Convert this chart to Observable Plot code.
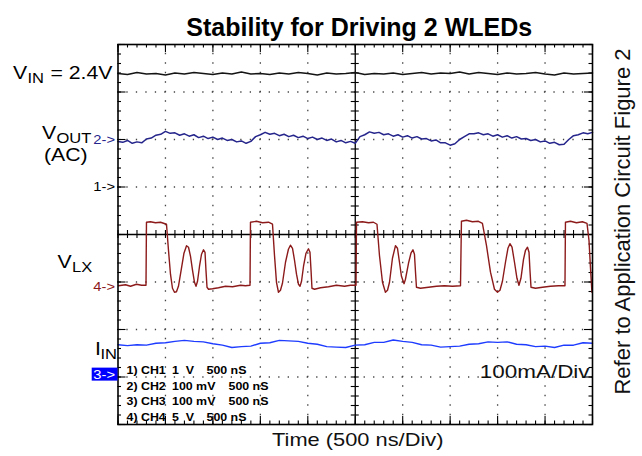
<!DOCTYPE html>
<html>
<head>
<meta charset="utf-8">
<script src="https://cdn.jsdelivr.net/npm/d3@7"></script>
<script src="https://cdn.jsdelivr.net/npm/@observablehq/plot@0.6"></script>
<style>
  html, body { margin: 0; padding: 0; background: #fff; }
  #chart svg { display: block; }
</style>
</head>
<body>
<div id="chart"></div>
<script>
// ---- Scope capture: 10 horizontal divisions of 500 ns, 8 vertical divisions ----
const TIME_PER_DIV = 500;        // ns
const SWEEP = 5000;              // ns across the screen
const SAMPLE_NS = 100;           // record interval for CH1 / CH3
const VOUT_SAMPLE_NS = 50;       // record interval for CH2

// channel settings: units per division and ground marker (divisions from centre)
const channelIds = [1, 2, 3, 4];
const channelNames = ["CH1", "CH2", "CH3", "CH4"];
const channelPerDiv = [1, 100, 100, 5];
const channelUnits = ["V", "mV", "mV", "V"];
const channelOffsets = [1.0, 2.0, -2.95, -1.1];

// CH1: input voltage VIN (V), one sample per 100 ns
const vinVolts = [
  2.39, 2.37, 2.41, 2.38, 2.39, 2.36, 2.40, 2.38, 2.41, 2.39,
  2.37, 2.40, 2.38, 2.42, 2.38, 2.39, 2.37, 2.40, 2.38, 2.41,
  2.39, 2.36, 2.40, 2.38, 2.39, 2.41, 2.37, 2.39, 2.38, 2.40,
  2.37, 2.39, 2.41, 2.38, 2.40, 2.39, 2.42, 2.38, 2.41, 2.39,
  2.37, 2.40, 2.38, 2.39, 2.41, 2.38, 2.36, 2.40, 2.38, 2.39,
  2.40
];

// CH2: output ripple VOUT, AC coupled (mV), one sample per 50 ns
const voutMilliVolts = [
  -4, -6, -2, -8, -5, -7, 1, 3, 9, 11,
  17, 13, 14, 9, 12, 7, 10, 4, 7, 2,
  5, 0, 3, -2, 0, -5, -3, -8, -4, 6,
  10, 15, 11, 13, 8, 11, 6, 9, 4, 7,
  2, 5, 0, 3, -2, 1, -5, -2, -7, -4,
  -8, 6, 10, 16, 13, 15, 10, 12, 7, 10,
  5, 8, 3, 6, 1, 2, -3, -1, -7, -7,
  -12, -9, 0, 6, 12, 12, 14, 10, 12, 7,
  10, 5, 8, 3, 6, 1, 2, -2, 0, -5,
  -3, -8, -6, -11, -10, 0, 8, 10, 14, 12,
  15
];

// CH3: input current IIN (mA), one sample per 100 ns
const iinMilliAmps = [
  63, 61, 63, 62, 66, 67, 70, 72, 70, 69,
  65, 62, 57, 59, 60, 66, 67, 72, 71, 70,
  66, 64, 59, 58, 57, 62, 63, 68, 68, 73,
  70, 68, 63, 62, 58, 59, 60, 64, 65, 69,
  68, 69, 64, 63, 59, 60, 57, 62, 62, 67,
  66
];

// CH4: switch node VLX, sample times (ns) and voltages (V)
const vlxTime = [
  5, 79, 132, 195, 248, 295,
  300, 342, 395, 448, 511,
  532, 553, 574, 595, 616, 637, 669, 695, 722, 743, 764, 785, 806, 822, 838, 859, 880, 901, 917, 927, 938, 954, 996, 1059, 1133, 1207, 1291, 1343, 1391,
  1396, 1459, 1523, 1586, 1628,
  1649, 1670, 1691, 1712, 1733, 1765, 1796, 1817, 1839, 1860, 1881, 1902, 1918, 1934, 1955, 1981, 2007, 2023, 2034, 2044, 2071, 2134, 2218, 2302, 2387, 2450, 2508,
  2513, 2576, 2640, 2692, 2729,
  2755, 2787, 2818, 2840, 2861, 2892, 2924, 2945, 2966, 2987, 3014, 3029, 3061, 3087, 3108, 3124, 3135, 3145, 3187, 3272, 3356, 3440, 3524, 3609,
  3619, 3672, 3735, 3798, 3840,
  3883, 3925, 3967, 3999, 4025, 4051, 4083, 4109, 4130, 4152, 4178, 4204, 4225, 4246, 4273, 4294, 4315, 4331, 4341, 4352, 4399, 4473, 4557, 4641, 4710,
  4715, 4768, 4831, 4894, 4942,
  4963, 4979, 4994
];
const vlxVolts = [
  0.11, 0.21, 0.05, 0.26, 0.16, 0.16,
  6.79, 6.84, 6.74, 6.79, 6.58,
  3.84, 1.32, -0.16, -0.58, -0.53, 0.05, 1.95, 3.53, 4.32, 4.16, 3.21, 1.74, 0.47, 0.05, 0.58, 2.16, 3.42, 3.89, 3.63, 1.74, -0.05, -0.26, -0.21, -0.11, 0.05, 0.0, 0.16, 0.11, 0.16,
  6.79, 6.89, 6.74, 6.79, 6.58,
  3.32, 0.47, -0.58, -0.37, 0.37, 2.58, 3.95, 4.37, 4.05, 2.79, 1.32, 0.26, 0.05, 0.58, 2.16, 3.53, 4.0, 3.63, 1.74, -0.16, -0.26, -0.11, 0.0, 0.16, 0.05, 0.16, 0.16,
  6.79, 6.84, 6.74, 6.79, 6.58,
  3.32, 0.47, -0.58, -0.37, 0.47, 3.0, 4.32, 4.05, 2.58, 1.1, 0.32, 0.79, 2.47, 3.53, 3.89, 3.42, 1.53, -0.05, -0.16, -0.05, 0.05, 0.11, 0.05, 0.11,
  6.89, 7.0, 6.84, 6.89, 6.68,
  4.32, 1.53, -0.26, -0.58, -0.37, 0.58, 2.58, 4.05, 4.53, 4.16, 2.58, 0.89, 0.16, 0.89, 2.89, 3.84, 4.16, 3.63, 1.74, -0.05, -0.16, -0.05, 0.05, 0.11, 0.11,
  6.79, 6.89, 6.74, 6.84, 6.68,
  4.89, 1.95, -0.58
];

// on-screen readout
const legendChannels = ["1) CH1", "2) CH2", "3) CH3", "4) CH4"];
const legendScales = ["1\u00a0\u00a0V", "100 mV", "100 mV", "5\u00a0\u00a0V"];
const legendTime = ["500 nS", "500 nS", "500 nS", "500 nS"];

const TITLE = "Stability for Driving 2 WLEDs";
const X_LABEL = "Time (500 ns/Div)";
const SIDE_NOTE = "Refer to Application Circuit Figure 2";
const IIN_SCALE = "100mA/Div";

// ---- styling ----
const traceColors = {1: "#141414", 2: "#25258c", 3: "#1e3cff", 4: "#8c1a1a"};
const markerColors = {1: "#000000", 2: "#25258c", 3: "#ffffff", 4: "#8c1a1a"};
const MARKER_BOX = "#0000ff";
const FONT = "'Liberation Sans', Arial, Helvetica, sans-serif";
const STRETCH = 1.18;            // side lettering is drawn slightly wide
const ML = 117.5, MT = 44, MR = 50, MB = 32;
const PX_NS = 500 / 47.45;       // ns per pixel
const PX_DIV = 1 / 47.5;         // divisions per pixel

// ---- build per-channel series in screen divisions ----
const channels = channelIds.map((id, i) => ({
  id, name: channelNames[i], perDiv: channelPerDiv[i], unit: channelUnits[i], offset: channelOffsets[i]
}));
const ch = Object.fromEntries(channels.map(c => [c.id, c]));
const toDiv = (c, v) => v / c.perDiv + c.offset;

const vinSeries = vinVolts.map((v, i) => ({t: i * SAMPLE_NS, y: toDiv(ch[1], v)}));
const voutSeries = voutMilliVolts.map((v, i) => ({t: i * VOUT_SAMPLE_NS, y: toDiv(ch[2], v)}));
const iinSeries = iinMilliAmps.map((v, i) => ({t: i * SAMPLE_NS, y: toDiv(ch[3], v)}));
const vlxSeries = vlxTime.map((t, i) => ({t, y: toDiv(ch[4], vlxVolts[i])}));

// ---- graticule ----
const minorX = d3.range(0, SWEEP / 100 + 1).map(k => k * 100);
const majorX = d3.range(0, 11).map(k => k * TIME_PER_DIV);
const minorY = d3.range(-20, 21).map(k => k / 5);
const majorY = d3.range(-4, 5);
const innerX = majorX.filter(x => x > 0 && x < SWEEP && x !== SWEEP / 2);
const innerY = majorY.filter(y => y > -4 && y < 4 && y !== 0);
const tMinor = 3.5, tMajor = 8, tAxis = 4;   // tick lengths, px

// text placed against the frame corner (baseline positions)
const at = (x, base) => ({frameAnchor: "top-left", dx: x - ML, dy: base - MT, lineAnchor: "bottom"});

const leftLabels = [
  {text: "V", x: 12.5, base: 78, size: 18, anchor: "start"},
  {text: "IN", x: 27, base: 82, size: 14, anchor: "start"},
  {text: "= 2.4V", x: 112, base: 78, size: 18, anchor: "end"},
  {text: "V", x: 41.5, base: 138, size: 18, anchor: "start"},
  {text: "OUT", x: 56, base: 142, size: 14, anchor: "start"},
  {text: "(AC)", x: 43.5, base: 160, size: 18, anchor: "start"},
  {text: "V", x: 57, base: 267, size: 18, anchor: "start"},
  {text: "LX", x: 71.5, base: 271, size: 14, anchor: "start"},
  {text: "I", x: 94.5, base: 354, size: 18, anchor: "start"},
  {text: "IN", x: 100, base: 358, size: 14, anchor: "start"}
];
const legendRowBase = [373.5, 389.2, 404.9, 420.6];
const legendColX = [126, 171.5];
const legendTimeX = [206, 228, 228, 206];

const labelMarks = leftLabels.map(d =>
  Plot.text([d.text], {...at(d.x, d.base), textAnchor: d.anchor, fontSize: d.size, fill: "#000"}));

const legendMarks = legendChannels.flatMap((c, i) => [
  Plot.text([c], {...at(legendColX[0], legendRowBase[i]), textAnchor: "start", fontSize: 10.5, fontWeight: "bold", fill: "#000"}),
  Plot.text([legendScales[i]], {...at(legendColX[1], legendRowBase[i]), textAnchor: "start", fontSize: 10.5, fontWeight: "bold", fill: "#000"}),
  Plot.text([legendTime[i]], {...at(legendTimeX[i], legendRowBase[i]), textAnchor: "start", fontSize: 10.5, fontWeight: "bold", fill: "#000"})
]);

const svg = Plot.plot({
  width: 642,
  height: 456,
  marginLeft: ML, marginRight: MR, marginTop: MT, marginBottom: MB,
  x: {domain: [0, SWEEP], axis: null},
  y: {domain: [-4, 4], axis: null},
  color: {type: "identity"},
  style: {fontFamily: FONT, background: "#fff", overflow: "visible"},
  marks: [
    // dotted division lines
    Plot.ruleX(innerX, {stroke: "#444", strokeWidth: 1.3, strokeDasharray: "1.3,8.2", strokeDashoffset: 0.65}),
    Plot.ruleY(innerY, {stroke: "#444", strokeWidth: 1.3, strokeDasharray: "1.3,8.19", strokeDashoffset: 0.65}),
    // centre axes with fine ticks
    Plot.ruleX([SWEEP / 2], {stroke: "#000", strokeWidth: 1.3}),
    Plot.ruleY([0], {stroke: "#000", strokeWidth: 1.4}),
    Plot.ruleX(minorX, {x: d => d, y1: -tAxis * PX_DIV, y2: tAxis * PX_DIV, stroke: "#000", strokeWidth: 1.1}),
    Plot.ruleY(minorY, {y: d => d, x1: SWEEP / 2 - tAxis * PX_NS, x2: SWEEP / 2 + tAxis * PX_NS, stroke: "#000", strokeWidth: 1.1}),
    // frame rulers
    Plot.ruleX(minorX, {x: d => d, y1: 4, y2: 4 - tMinor * PX_DIV, stroke: "#000", strokeWidth: 1.1}),
    Plot.ruleX(majorX, {x: d => d, y1: 4, y2: 4 - tMajor * PX_DIV, stroke: "#000", strokeWidth: 1.1}),
    Plot.ruleX(minorX, {x: d => d, y1: -4, y2: -4 + tMinor * PX_DIV, stroke: "#000", strokeWidth: 1.1}),
    Plot.ruleX(majorX, {x: d => d, y1: -4, y2: -4 + tMajor * PX_DIV, stroke: "#000", strokeWidth: 1.1}),
    Plot.ruleY(minorY, {y: d => d, x1: 0, x2: tMinor * PX_NS, stroke: "#000", strokeWidth: 1.1}),
    Plot.ruleY(majorY, {y: d => d, x1: 0, x2: tMajor * PX_NS, stroke: "#000", strokeWidth: 1.1}),
    Plot.ruleY(minorY, {y: d => d, x1: SWEEP, x2: SWEEP - tMinor * PX_NS, stroke: "#000", strokeWidth: 1.1}),
    Plot.ruleY(majorY, {y: d => d, x1: SWEEP, x2: SWEEP - tMajor * PX_NS, stroke: "#000", strokeWidth: 1.1}),

    // traces
    Plot.line(vinSeries, {x: "t", y: "y", stroke: traceColors[1], strokeWidth: 1.5}),
    Plot.line(voutSeries, {x: "t", y: "y", stroke: traceColors[2], strokeWidth: 1.5}),
    Plot.line(iinSeries, {x: "t", y: "y", stroke: traceColors[3], strokeWidth: 1.4}),
    Plot.line(vlxSeries, {x: "t", y: "y", stroke: traceColors[4], strokeWidth: 1.4}),

    Plot.frame({stroke: "#000", strokeWidth: 1.6}),

    // ground markers
    Plot.rect(channels.filter(c => c.id === 3), {
      x1: -25.8 * PX_NS, x2: 0, y1: c => c.offset - 6.5 * PX_DIV, y2: c => c.offset + 6.5 * PX_DIV, fill: MARKER_BOX
    }),
    Plot.text(channels, {
      x: 0, y: "offset", text: c => `${c.id}->`, textAnchor: "end", dx: -3, fontSize: 12.5,
      fill: c => markerColors[c.id]
    }),

    // annotations
    ...labelMarks,
    ...legendMarks,
    Plot.text([IIN_SCALE], {...at(589, 377), textAnchor: "end", fontSize: 19, fill: "#111"}),
    Plot.text([TITLE], {frameAnchor: "top", dx: 4, dy: -9, lineAnchor: "bottom", textAnchor: "middle", fontSize: 25, fontWeight: "bold", fill: "#000"}),
    Plot.text([X_LABEL], {frameAnchor: "bottom", dx: 2.5, dy: 21, lineAnchor: "bottom", textAnchor: "middle", fontSize: 18.5, fill: "#111"}),
    Plot.text([SIDE_NOTE], {frameAnchor: "right", rotate: -90, dx: 30, dy: -13, textAnchor: "middle", fontSize: 22, fill: "#111"})
  ]
});

document.getElementById("chart").append(svg);

// widen the horizontal side lettering (title and rotated note keep natural width)
d3.select(svg).selectAll('g[aria-label="text"] text').each(function () {
  if (this.textContent === SIDE_NOTE || this.textContent === TITLE) return;
  const w = this.getComputedTextLength();
  if (w > 0) {
    this.setAttribute("textLength", (w * STRETCH).toFixed(2));
    this.setAttribute("lengthAdjust", "spacingAndGlyphs");
  }
});
</script>
</body>
</html>
